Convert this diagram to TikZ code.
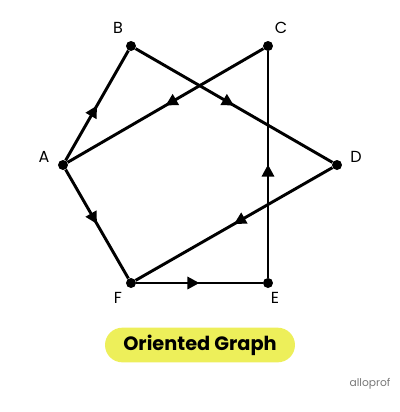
\documentclass[tikz,border=0pt]{standalone}
\usepackage{fontspec}
\setmainfont{Poppins}
\usetikzlibrary{arrows.meta,decorations.markings}
\definecolor{labelyellow}{RGB}{237,239,90}
\definecolor{logogray}{RGB}{120,120,120}
\tikzset{
    vertex/.style={circle, fill=black, inner sep=0pt, minimum size=7.5pt},
    vname/.style={font=\fontsize{12}{14}\selectfont},
    arc/.style={line width=2.2pt, postaction={decorate},
        decoration={markings, mark=at position 0.5 with {\arrow{Triangle[length=9pt,width=9pt]}}}}
}
\begin{document}
\begin{tikzpicture}[x=0.75pt, y=-0.75pt]
    \useasboundingbox (0,0) rectangle (400,412);

    % Vertices
    \node[vertex] (A) at (63,165) {};
    \node[vertex] (B) at (131,46) {};
    \node[vertex] (C) at (268,46) {};
    \node[vertex] (D) at (337,165) {};
    \node[vertex] (E) at (268,283) {};
    \node[vertex] (F) at (131,283) {};

    % Vertex names
    \node[vname] at (44,157) {A};
    \node[vname] at (118,28) {B};
    \node[vname] at (281,28) {C};
    \node[vname] at (356,157) {D};
    \node[vname] at (275,298) {E};
    \node[vname] at (118,298) {F};

    % Oriented edges
    \draw[arc] (A) -- (B);
    \draw[arc] (B) -- (D);
    \draw[arc] (C) -- (A);
    \draw[arc] (E) -- (C);
    \draw[arc] (D) -- (F);
    \draw[arc] (F) -- (E);
    \draw[arc] (A) -- (F);

    % Title
    \node[fill=labelyellow, rounded corners=13pt, minimum width=142.5pt, minimum height=26pt,
        font=\bfseries\fontsize{14.5}{16}\selectfont] (title) at (200,345) {Oriented Graph};

    % Logo
    \node[text=logogray, font=\fontsize{8}{10}\selectfont] (logo) at (370,384) {alloprof};
\end{tikzpicture}
\end{document}
